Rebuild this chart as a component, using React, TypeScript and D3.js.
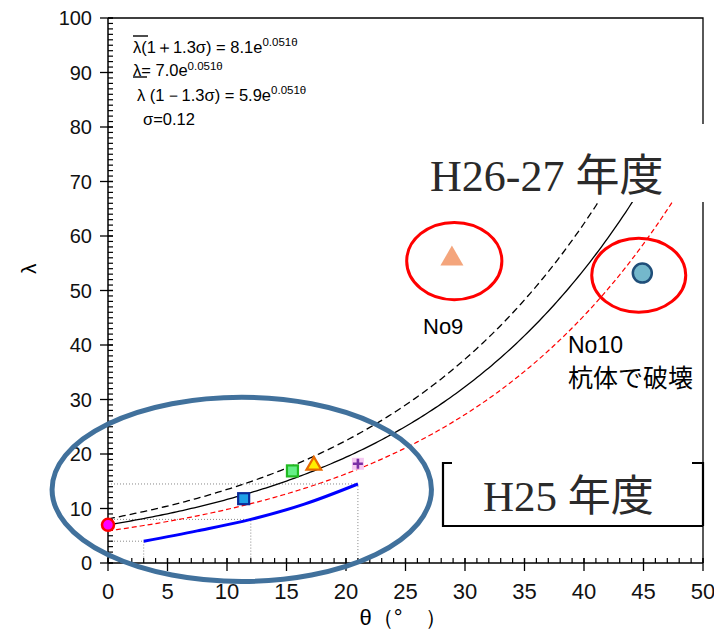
import * as d3 from 'd3';
import React, { useEffect } from 'react';

// fitted curves: lambda = a * exp(rate * theta)
const curveNames = ['upper', 'mean', 'lower'];
const curveCoef = [8.1, 7.0, 5.9];
const curveRate = 0.051;

// thick blue line (H25 design line)
const blueTheta = [3, 7.5, 12, 16.5, 21];
const blueLambda = [4.0, 5.9, 8.0, 10.8, 14.5];

// dotted guide points
const guideTheta = [3, 12, 21];
const guideLambda = [4.0, 8.0, 14.5];

// H25 measurements
const h25Theta = [0, 11.4, 15.5, 17.3, 21.0];
const h25Lambda = [7.0, 11.8, 16.9, 17.9, 18.2];
const h25Shape = ['circle', 'squareBlue', 'squareGreen', 'triangle', 'plus'];

// H26-27 measurements
const no9 = { theta: 28.9, lambda: 55.8 };
const no10 = { theta: 44.9, lambda: 53.2 };

const xTicks = ['0', '5', '10', '15', '20', '25', '30', '35', '40', '45', '50'];
const yTicks = ['0', '10', '20', '30', '40', '50', '60', '70', '80', '90', '100'];

export default function App() {
  const ref = React.useRef<HTMLDivElement>(null);

  useEffect(() => {
    if (!ref.current) return;
    ref.current.innerHTML = '';

    const W = 714;
    const H = 634;
    const x = d3.scaleLinear().domain([0, 50]).range([108, 703]);
    const y = d3.scaleLinear().domain([0, 100]).range([563, 18]);

    const svg = d3
      .select(ref.current)
      .append('svg')
      .attr('width', W)
      .attr('height', H)
      .style('position', 'absolute')
      .style('left', '0px')
      .style('top', '0px')
      .style('background', '#fff');

    const sans = 'Liberation Sans, Arial, sans-serif';

    // frame
    svg
      .append('path')
      .attr('d', `M${x(0)},${y(100)}H${x(50)}V${y(0)}`)
      .attr('fill', 'none')
      .attr('stroke', '#000')
      .attr('stroke-width', 1.3);

    // dotted guides
    guideTheta.forEach((t, i) => {
      svg
        .append('path')
        .attr('d', `M${x(0)},${y(guideLambda[i])}H${x(t)}V${y(0)}`)
        .attr('fill', 'none')
        .attr('stroke', '#888')
        .attr('stroke-width', 1)
        .attr('stroke-dasharray', '1,2');
    });

    // axes
    const xAxis = svg.append('g').attr('transform', `translate(0,${y(0)})`);
    xAxis
      .append('line')
      .attr('x1', x(0))
      .attr('x2', x(50))
      .attr('stroke', '#000')
      .attr('stroke-width', 1.5);
    xAxis
      .selectAll('.minor')
      .data(d3.range(0, 51, 1))
      .enter()
      .append('line')
      .attr('x1', d => x(d))
      .attr('x2', d => x(d))
      .attr('y1', 0)
      .attr('y2', -5)
      .attr('stroke', '#000')
      .attr('stroke-width', 1.2);
    xAxis
      .selectAll('.major')
      .data(xTicks)
      .enter()
      .append('line')
      .attr('x1', d => x(+d))
      .attr('x2', d => x(+d))
      .attr('y1', -5)
      .attr('y2', 8)
      .attr('stroke', '#000')
      .attr('stroke-width', 1.3);
    xAxis
      .selectAll('text')
      .data(xTicks)
      .enter()
      .append('text')
      .attr('x', d => x(+d))
      .attr('y', 36)
      .attr('text-anchor', 'middle')
      .attr('font-family', 'Liberation Sans Narrow, ' + sans)
      .attr('font-size', 22)
      .attr('fill', '#111')
      .text(d => d);

    const yAxis = svg.append('g').attr('transform', `translate(${x(0)},0)`);
    yAxis
      .append('line')
      .attr('y1', y(0))
      .attr('y2', y(100))
      .attr('stroke', '#000')
      .attr('stroke-width', 1.5);
    yAxis
      .selectAll('.minor')
      .data(d3.range(0, 101, 1))
      .enter()
      .append('line')
      .attr('y1', d => y(d))
      .attr('y2', d => y(d))
      .attr('x1', 0)
      .attr('x2', 5)
      .attr('stroke', '#000')
      .attr('stroke-width', 1.2);
    yAxis
      .selectAll('.major')
      .data(yTicks)
      .enter()
      .append('line')
      .attr('y1', d => y(+d))
      .attr('y2', d => y(+d))
      .attr('x1', -8)
      .attr('x2', 5)
      .attr('stroke', '#000')
      .attr('stroke-width', 1.3);
    yAxis
      .selectAll('text')
      .data(yTicks)
      .enter()
      .append('text')
      .attr('x', -16)
      .attr('y', d => y(+d) + 7)
      .attr('text-anchor', 'end')
      .attr('font-family', sans)
      .attr('font-size', 20)
      .attr('fill', '#111')
      .text(d => d);

    // axis titles
    svg
      .append('text')
      .attr('transform', `translate(36,${y(54)}) rotate(-90)`)
      .attr('text-anchor', 'middle')
      .attr('font-family', sans)
      .attr('font-size', 21)
      .text('λ');
    svg
      .append('text')
      .attr('x', x(24.8))
      .attr('y', 625)
      .attr('text-anchor', 'middle')
      .attr('font-family', 'Liberation Sans Narrow, ' + sans)
      .attr('font-size', 22)
      .text('θ（°　）');

    // curves clipped below the H26-27 label box
    svg
      .append('clipPath')
      .attr('id', 'curveClip')
      .append('rect')
      .attr('x', x(0))
      .attr('y', 202)
      .attr('width', x(50) - x(0))
      .attr('height', y(0) - 202);

    const thetas = d3.range(0, 50.01, 0.25);
    const styles: Record<string, { stroke: string; dash: string | null; w: number }> = {
      upper: { stroke: '#000', dash: '7,4', w: 1.3 },
      mean: { stroke: '#000', dash: null, w: 1.3 },
      lower: { stroke: '#ff0000', dash: '5,3', w: 1.2 },
    };
    curveNames.forEach((name, i) => {
      const line = d3
        .line<number>()
        .x(t => x(t))
        .y(t => y(curveCoef[i] * Math.exp(curveRate * t)));
      const s = styles[name];
      svg
        .append('path')
        .datum(thetas)
        .attr('clip-path', 'url(#curveClip)')
        .attr('d', line)
        .attr('fill', 'none')
        .attr('stroke', s.stroke)
        .attr('stroke-width', s.w)
        .attr('stroke-dasharray', s.dash);
    });

    // blue line
    svg
      .append('path')
      .datum(blueTheta.map((t, i) => [t, blueLambda[i]] as [number, number]))
      .attr(
        'd',
        d3
          .line<[number, number]>()
          .x(d => x(d[0]))
          .y(d => y(d[1]))
          .curve(d3.curveMonotoneX)
      )
      .attr('fill', 'none')
      .attr('stroke', '#0000ff')
      .attr('stroke-width', 3);

    // H25 markers
    h25Theta.forEach((t, i) => {
      const cx = x(t);
      const cy = y(h25Lambda[i]);
      const shape = h25Shape[i];
      if (shape === 'circle') {
        svg
          .append('circle')
          .attr('cx', cx)
          .attr('cy', cy)
          .attr('r', 6)
          .attr('fill', '#ff00ff')
          .attr('stroke', '#ff0000')
          .attr('stroke-width', 2.5);
      } else if (shape === 'squareBlue' || shape === 'squareGreen') {
        const blue = shape === 'squareBlue';
        svg
          .append('rect')
          .attr('x', cx - 5.5)
          .attr('y', cy - 5.5)
          .attr('width', 11)
          .attr('height', 11)
          .attr('fill', blue ? '#1ea0e8' : '#66ee88')
          .attr('stroke', blue ? '#0a2a9a' : '#22bb22')
          .attr('stroke-width', 2.2);
      } else if (shape === 'triangle') {
        svg
          .append('path')
          .attr('d', d3.symbol(d3.symbolTriangle, 95)())
          .attr('transform', `translate(${cx},${cy})`)
          .attr('fill', '#ffee00')
          .attr('stroke', '#e86a00')
          .attr('stroke-width', 2.2);
      } else {
        svg
          .append('rect')
          .attr('x', cx - 6)
          .attr('y', cy - 6)
          .attr('width', 12)
          .attr('height', 12)
          .attr('fill', '#f6c8f2');
        svg
          .append('path')
          .attr('d', `M${cx - 5},${cy}H${cx + 5}M${cx},${cy - 5}V${cy + 5}`)
          .attr('stroke', '#7a2fa5')
          .attr('stroke-width', 2.6);
      }
    });

    // No9 and No10
    svg
      .append('path')
      .attr('d', d3.symbol(d3.symbolTriangle, 230)())
      .attr('transform', `translate(${x(no9.theta)},${y(no9.lambda)})`)
      .attr('fill', '#f4a57c');
    svg
      .append('circle')
      .attr('cx', x(no10.theta))
      .attr('cy', y(no10.lambda))
      .attr('r', 9.5)
      .attr('fill', '#74b8cc')
      .attr('stroke', '#1f4e79')
      .attr('stroke-width', 2.5);

    // red ellipses
    [
      { t: 29.1, l: 55.4, rx: 4.0, ry: 7.1 },
      { t: 44.6, l: 52.8, rx: 3.95, ry: 6.8 },
    ].forEach(e => {
      svg
        .append('ellipse')
        .attr('cx', x(e.t))
        .attr('cy', y(e.l))
        .attr('rx', x(e.rx) - x(0))
        .attr('ry', y(0) - y(e.ry))
        .attr('fill', 'none')
        .attr('stroke', '#ff0000')
        .attr('stroke-width', 3);
    });

    // big blue ellipse
    svg
      .append('ellipse')
      .attr('cx', x(11.24))
      .attr('cy', y(13.5))
      .attr('rx', x(15.94) - x(0))
      .attr('ry', y(0) - y(16.9))
      .attr('fill', 'none')
      .attr('stroke', '#41719c')
      .attr('stroke-width', 5);

    // labels
    svg
      .append('text')
      .attr('x', 423)
      .attr('y', 334)
      .attr('font-family', sans)
      .attr('font-size', 22)
      .text('No9');
    svg
      .append('text')
      .attr('x', 568)
      .attr('y', 353)
      .attr('font-family', sans)
      .attr('font-size', 23)
      .text('No10');
    svg
      .append('text')
      .attr('x', 568)
      .attr('y', 387)
      .attr('font-family', 'Noto Sans CJK JP, ' + sans)
      .attr('font-size', 25)
      .text('杭体で破壊');

    // H26-27 text box (white fill)
    svg
      .append('rect')
      .attr('x', 415)
      .attr('y', 124)
      .attr('width', 299)
      .attr('height', 78)
      .attr('fill', '#fff');
    svg
      .append('text')
      .attr('x', 430)
      .attr('y', 191)
      .attr('font-family', 'Liberation Serif, Noto Sans CJK JP, serif')
      .attr('font-size', 44)
      .attr('fill', '#2a2a2a')
      .text('H26-27 年度');

    // H25 box
    svg
      .append('path')
      .attr('d', 'M452,463H443V526H703M692,463H703V526')
      .attr('fill', 'none')
      .attr('stroke', '#000')
      .attr('stroke-width', 2.2);
    svg
      .append('text')
      .attr('x', 483)
      .attr('y', 511)
      .attr('font-family', 'Liberation Serif, Noto Sans CJK JP, serif')
      .attr('font-size', 43)
      .attr('fill', '#2a2a2a')
      .text('H25 年度');

    // formulas
    const f = svg
      .append('g')
      .attr('font-family', sans)
      .attr('font-size', 16.5)
      .attr('fill', '#000');
    const t1 = f.append('text').attr('x', 133).attr('y', 53);
    t1.append('tspan').text('λ(1＋1.3σ) = 8.1e');
    t1.append('tspan').attr('font-size', 11.5).attr('dy', -7).text('0.051θ');
    f.append('line')
      .attr('x1', 133)
      .attr('x2', 148)
      .attr('y1', 36)
      .attr('y2', 36)
      .attr('stroke', '#000')
      .attr('stroke-width', 1.4);
    const t2 = f.append('text').attr('x', 133).attr('y', 76);
    t2.append('tspan').text('λ= 7.0e');
    t2.append('tspan').attr('font-size', 11.5).attr('dy', -6).text('0.051θ');
    f.append('line')
      .attr('x1', 133)
      .attr('x2', 147)
      .attr('y1', 77)
      .attr('y2', 77)
      .attr('stroke', '#000')
      .attr('stroke-width', 1.4);
    const t3 = f.append('text').attr('x', 137).attr('y', 101);
    t3.append('tspan').text('λ (1－1.3σ) = 5.9e');
    t3.append('tspan').attr('font-size', 11.5).attr('dy', -7).text('0.051θ');
    f.append('text').attr('x', 143).attr('y', 125).text('σ=0.12');
  }, []);

  return <div ref={ref}></div>;
}
